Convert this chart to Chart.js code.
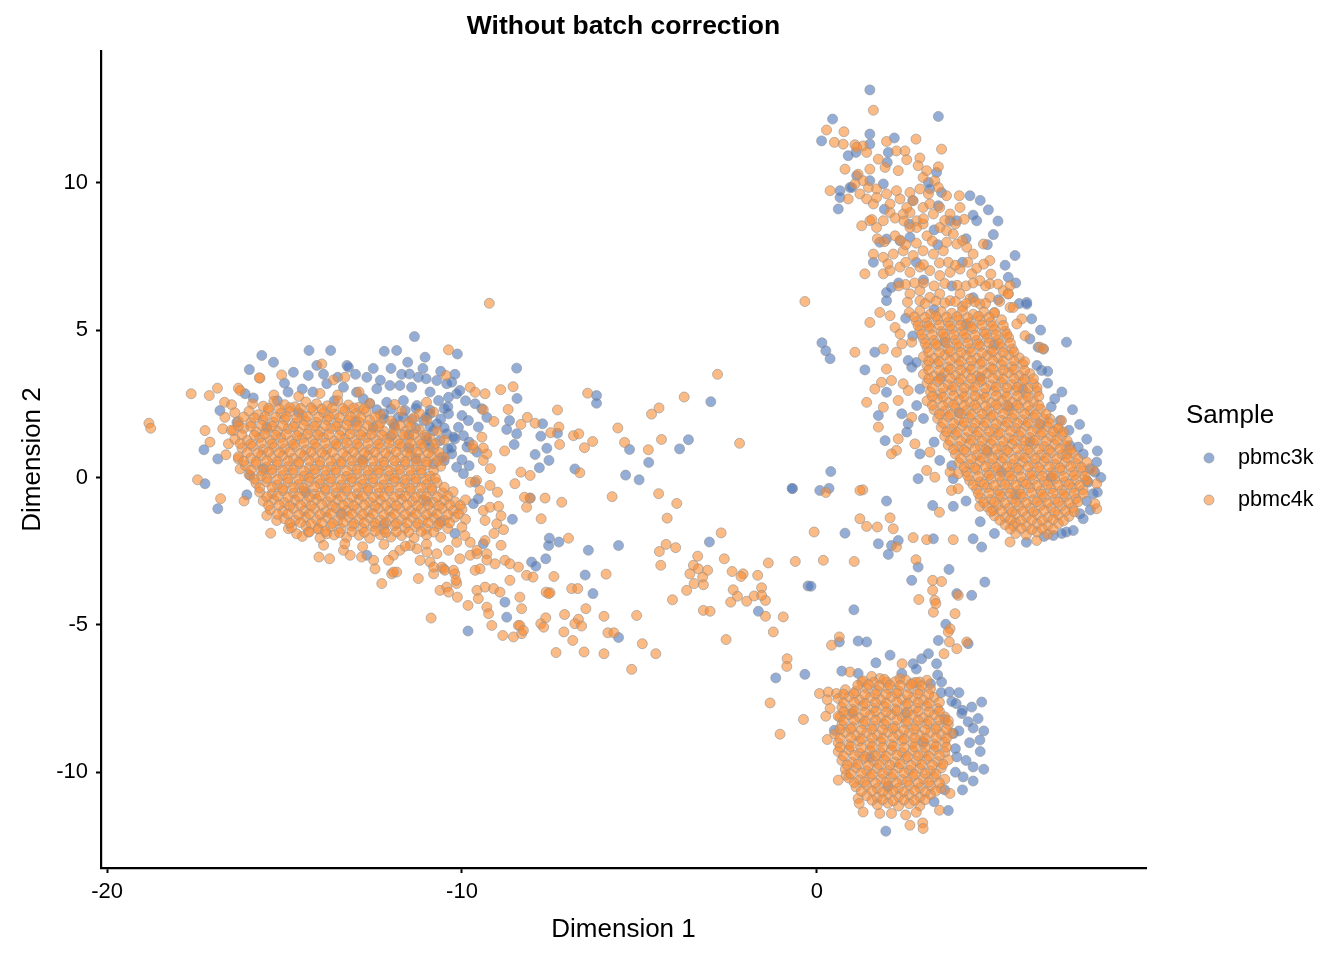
<!DOCTYPE html>
<html><head><meta charset="utf-8">
<script src="https://cdn.jsdelivr.net/npm/chart.js@4.4.1/dist/chart.umd.min.js"></script>
<style>html,body{margin:0;padding:0;background:#fff}canvas{display:block}</style>
</head><body>
<canvas id="c" width="1344" height="960" style="width:1344px;height:960px"></canvas>
<script>
const chartTitle = 'Without batch correction';
const xTitle = 'Dimension 1';
const yTitle = 'Dimension 2';
const legendTitle = 'Sample';
const seriesNames = ['pbmc3k', 'pbmc4k'];
const xTicks = [-20, -10, 0];
const yTicks = [-10, -5, 0, 5, 10];

// pbmc3k points [Dimension 1, Dimension 2]
const pbmc3k = [
[-17.27,0.94],[-16.88,0.63],[-17.24,-0.21],[-16.88,-1.06],[-16.06,-0.59],[-15.97,0.07],[-16.34,1.87],[-16.82,2.27],[-16.11,2.84],[-15.88,2.70],[-15.64,4.14],[-15.31,3.91],[-15.99,3.66],
[-11.34,4.78],[-12.19,4.28],[-11.84,4.31],[-10.13,4.19],[-14.31,4.31],[-13.70,4.31],[-14.09,3.80],[-13.24,3.80],[-13.20,3.74],[-11.53,3.91],[-11.04,4.08],[-11.48,3.51],[-12.68,3.40],[-14.75,3.57],[-14.33,3.46],
[-11.23,3.40],[-11.01,3.35],[-10.71,3.29],[-10.43,3.18],[-10.29,3.23],[-12.03,3.12],[-11.75,3.12],[-11.42,3.06],[-10.06,2.95],[-10.38,2.72],[-10.15,2.84],
[-9.44,2.33],[-9.63,2.50],[-9.30,2.04],[-9.82,1.93],[-9.54,1.71],[-9.96,1.42],[-10.20,1.31],[-9.86,1.03],[-9.58,0.86],
[-9.96,0.13],[-9.63,-0.16],[-9.54,-0.72],[-9.68,-0.89],
[-10.66,2.61],[-10.38,2.16],[-10.90,2.16],[-10.71,1.82],[-11.08,1.93],[-10.80,1.59],[-10.43,1.48],[-10.24,1.37],[-10.62,1.25],[-10.99,1.25],[-10.29,0.80],[-10.15,0.35],[-10.57,0.69],[-10.80,0.46],
[-12.40,3.01],[-12.12,2.55],[-11.65,2.61],[-11.27,2.44],[-12.97,2.89],[-12.78,2.67],[-13.34,3.06],[-13.81,3.18],[-12.21,2.16],[-11.93,1.82],[-11.65,2.04],
[-12.68,-2.64],[-9.83,-5.21],[-8.79,-4.23],[-8.74,-4.74],[-8.04,-2.87],[-9.40,-2.25],[-8.58,-1.42],
[-12.4,2.3],[-12.0,2.32],[-11.6,2.27],[-11.3,2.35],[-10.9,2.28],[-10.5,2.33],[-12.2,2.0],[-11.8,2.04],[-11.4,1.97],[-11.0,2.05],[-10.6,1.98],[-12.5,1.7],[-11.9,1.74],[-11.3,1.67],[-10.9,1.72],[-10.5,1.68],[-12.0,1.4],[-11.5,1.44],[-11.0,1.37],[-11.5,1.0],[-10.9,1.04],[-10.4,0.97],[-12.8,0.6],[-11.3,0.64],[-10.5,0.57],
[-15.5,1.7],[-14.9,2.9],[-15.6,0.3],[-14.4,-0.5],[-13.4,-1.2],[-12.2,-1.6],[-11.0,-0.8],[-10.6,-1.5],[-10.2,-1.9],[-13.6,2.6],[-14.6,2.2],[-15.2,2.6],[-13.0,1.9],[-12.6,2.5],
[-15.0,3.2],[-14.5,3.0],[-13.9,3.5],[-13.5,3.4],[-13.0,3.5],[-12.5,3.7],[-12.0,3.7],[-11.7,3.5],[-11.1,3.7],[-10.6,3.6],[-10.2,3.5],[-9.9,2.6],[-14.2,2.9],[-12.3,3.3],[-10.9,2.9],[-10.4,2.4],[-10.0,2.1],[-10.1,1.7],[-9.8,1.2],[-10.3,1.0],[-10.0,0.6],[-9.8,0.4],
[-8.46,3.71],[-8.45,2.68],[-6.21,2.78],[-6.21,2.52],[-2.99,2.57],[-3.62,1.28],[-3.87,0.97],[-5.28,0.95],[-4.74,0.51],[-5.39,0.08],[-5.01,-0.08],[-0.69,-0.38],[-3.03,-2.19],[-0.25,-3.68],[-1.65,-4.54],[-1.16,-6.80],[-0.34,-6.68],[-5.59,-2.31],[-6.44,-2.47],[-6.53,-3.31],[-6.31,-3.94],[-5.59,-5.43],[-7.54,-2.06],[-7.56,-2.31],[-7.27,-2.19],[-7.92,-3.01],[-7.64,-2.76],[-6.82,0.29],[-7.31,1.50],[-7.78,1.40],[-7.94,0.78],[-7.61,0.99],[-7.55,0.58],[-7.82,0.33],[-7.73,1.82],[-8.66,1.93],[-8.74,1.63],[-8.46,1.48],[-8.53,1.12],[-8.08,-0.70],
[1.49,13.15],[3.42,12.25],[0.44,12.16],[0.13,11.42],[1.49,11.65],[2.18,11.52],[0.88,10.92],[1.10,11.03],[1.49,11.31],[2.01,11.03],[1.98,10.69],[1.12,10.24],[0.93,9.84],[1.49,10.07],[1.87,9.96],[3.14,10.01],[3.37,10.35],[3.51,9.67],
[0.65,9.73],[0.65,9.50],[0.60,9.11],[0.98,9.84],[4.31,9.56],[4.83,9.08],[4.50,8.71],[4.97,8.24],[5.58,7.53],[5.39,6.79],[5.91,5.94],[5.11,6.03],[2.10,6.45],[1.96,6.28],
[1.77,7.98],[1.96,8.09],[1.59,7.30],[2.34,8.03],[2.62,8.15],[3.18,9.79],[3.42,9.22],[3.75,8.71],[3.94,8.71],
[2.8,7.3],[3.4,7.9],[4.1,7.3],[2.3,6.6],[3.0,6.7],[3.8,6.5],[4.4,6.1],[2.6,8.6],[3.3,8.4],[4.2,8.1],[1.9,9.1],[2.7,9.4],
[4.6,9.4],[5.1,8.7],[4.8,7.9],[5.3,7.2],[5.6,6.6],[4.4,8.9],
[1.96,6.0],[1.63,4.25],[1.35,3.65],[2.67,3.74],[2.57,3.97],[1.96,2.89],[1.73,2.10],[2.39,2.16],[2.81,2.44],[2.57,1.82],[1.92,1.25],[2.53,1.54],[2.90,0.80],[3.46,0.58],[3.84,-0.04],[2.85,-0.04],
[1.96,-0.80],[0.79,-1.89],[1.73,-2.25],[2.10,-2.31],[2.29,-2.14],[3.28,-2.08],[4.40,-2.08],[4.64,-2.36],
[5.91,5.88],[6.05,5.38],[6.33,3.63],[6.70,2.67],[7.03,4.59],[6.23,4.42],[6.38,4.36],[6.85,1.93],[7.36,1.03],[7.13,1.08],[7.88,0.52],[7.83,0.18],[7.78,-0.55],[7.64,-0.16],[7.41,-1.23],[7.22,-1.80],[7.03,-1.85],[6.66,-1.97],
[6.2,3.8],[6.5,3.2],[6.6,2.4],[7.1,1.6],[7.5,0.8],[7.7,0.3],[7.6,-0.8],[7.5,-1.4],[6.4,-2.0],[5.0,-1.9],[4.6,-1.5],[4.2,-0.8],[3.8,0.4],[3.3,1.2],[3.0,2.0],[2.9,3.0],[2.8,3.9],[2.7,4.8],[2.5,5.4],[3.6,4.6],[4.6,3.4],[5.4,2.4],[6.0,1.2],[6.6,0.0],[5.6,-0.6],[4.8,0.9],[4.0,2.2],[3.5,3.4],[4.2,5.2],[5.0,4.5],[5.8,3.0],[6.3,1.8],[5.2,0.2],[3.3,5.7],
[6.9,2.9],[7.2,2.3],[7.4,1.8],[7.6,1.3],[7.9,0.9],[8.0,0.0],[7.9,-0.5],[7.7,-1.1],[6.9,-1.9],[5.9,-2.2],[6.5,3.6],[6.0,4.7],[5.7,5.9],[6.3,5.0],
[0.14,4.57],[0.25,4.30],[0.37,4.03],[0.39,0.20],[0.08,-0.44],[0.34,-0.37],[-0.70,-0.37],
[3.26,-0.95],[3.84,-0.98],[2.01,-2.61],[2.85,-3.04],[3.72,-3.12],[-0.17,-3.69],[2.67,-3.49],[4.73,-3.55],[4.36,-4.0],[3.94,-3.94],[1.04,-4.49],[3.63,-4.98],[3.42,-5.53],[4.26,-5.64],[0.63,-5.58],[1.16,-5.55],[1.40,-5.58],[2.06,-6.03],[1.66,-6.29],[2.71,-6.32],[3.14,-5.98],[2.95,-6.15],[0.70,-6.57],[1.16,-6.65],[2.39,-6.65],
[3.37,-6.32],[3.51,-6.94],[3.73,-7.28],[3.92,-7.67],[4.36,-7.79],[4.64,-7.62],[4.08,-8.01],[4.26,-8.29],[4.54,-8.18],[4.59,-8.91],[4.40,-9.82],[4.12,-10.16],[3.94,-9.48],[3.84,-8.69],[0.49,-8.58],[1.94,-12.0],
[3.2,-7.0],[3.5,-7.3],[3.8,-7.6],[4.1,-7.9],[4.4,-8.5],[4.0,-8.6],[4.3,-9.0],[4.6,-9.3],[4.2,-9.6],[3.9,-10.0],[4.4,-10.3],[3.6,-10.6],[3.3,-11.0],[3.0,-9.0],[2.5,-8.0],[1.5,-9.5],[2.0,-10.5],[1.0,-8.0],[3.6,-8.2],[3.9,-9.2],[4.0,-7.3],[3.4,-6.7],[2.8,-6.5],[4.7,-8.6],[4.7,-9.9],[4.1,-10.6],[3.7,-11.3]
];

// pbmc4k points [Dimension 1, Dimension 2]
const pbmc4k = [
[-18.82,1.84],[-18.77,1.67],[-17.63,2.84],[-17.12,2.78],[-16.89,3.03],[-15.69,3.37],[-15.08,3.48],[-16.30,3.03],[-16.25,2.95],[-16.69,2.55],[-16.49,2.47],[-16.68,2.04],[-17.24,1.59],[-17.10,1.20],[-16.74,1.65],[-16.65,0.77],[-16.58,1.14],[-16.44,1.59],[-17.45,-0.08],[-16.80,-0.72],[-16.14,-0.80],[-15.50,-1.29],[-15.22,-1.46],[-15.39,-1.89],[-16.25,0.29],[-16.30,0.63],
[-10.38,4.33],[-13.95,3.85],[-15.71,3.38],[-13.62,3.31],[-13.30,3.40],[-10.45,3.46],[-9.77,3.06],[-9.63,2.89],[-9.35,2.84],[-9.44,1.37],[-9.68,0.97],[-9.40,0.58],[-9.30,0.80],[-9.59,-0.10],[-9.49,-0.44],
[-14.89,-1.74],[-14.66,-1.91],[-14.33,-1.85],[-14.05,-1.74],[-13.81,-1.91],[-14.03,-2.70],[-13.73,-2.76],[-13.34,-2.47],[-13.15,-2.64],[-12.83,-2.70],[-12.49,-2.81],[-12.26,-3.60],[-11.98,-3.27],[-11.84,-3.21],[-11.23,-3.43],[-10.80,-3.27],[-10.52,-3.10],[-10.62,-3.83],[-10.43,-3.72],[-10.15,-3.60],[-9.63,-3.15],[-9.49,-3.10],
[-10.87,-4.77],[-10.38,-3.89],[-10.13,-4.06],[-9.83,-4.34],[-9.58,-3.83],[-9.54,-4.11],[-9.30,-4.40],[-9.25,-4.62],[-9.16,-5.02],[-8.85,-5.36],[-8.55,-5.41],[-8.41,-5.02],[-8.32,-5.30],[-9.35,-3.72],[-9.11,-3.77],[-8.93,-3.89],[-8.65,-3.49],[-8.41,-3.04],[-9.07,-2.93],[-8.79,-2.81],[-8.65,-2.93],[-8.18,-3.32],[-8.0,-3.38],[-10.20,-3.27],[-10.17,-3.49],[-10.57,-3.04],[-10.48,-3.15],[-9.35,-2.14],[-9.30,-2.59],[-9.58,-2.59],[-9.02,-1.57],[-8.83,-1.77],[-9.35,-1.46],[-9.40,-1.12],[-9.21,-1.01],[-8.97,-0.98],[-9.77,-0.16],[-9.21,-0.27],
[-11.18,-2.81],[-10.90,-2.87],[-10.80,-3.04],[-10.24,-3.15],[-10.06,-2.76],[-9.77,-2.64],[-9.58,-2.47],[-9.77,-2.20],[-9.92,-1.97],[-10.15,-2.20],[-10.38,-2.47],[-10.71,-2.59],[-10.99,-2.53],[-11.27,-2.42],[-11.46,-2.31],[-11.75,-2.47],[-11.93,-2.64],[-12.07,-2.81],[-12.45,-3.10],[-11.93,-3.21],
[-9.23,5.91],[-8.56,3.08],[-8.91,2.98],[-6.46,2.86],[-7.31,2.29],[-2.80,3.50],[-3.74,2.73],[-4.45,2.36],[-4.66,2.15],[-5.61,1.68],[-2.18,1.16],[-4.38,1.29],[-5.42,1.19],[-4.75,0.94],[-5.77,-0.65],[-4.46,-0.55],[-3.95,-0.88],[-4.22,-1.38],[-2.70,-1.88],[-4.25,-2.27],[-4.44,-2.51],[-3.98,-2.38],[-4.40,-2.98],
[-3.36,-2.67],[-3.48,-2.98],[-3.34,-3.10],[-3.08,-3.15],[-3.58,-3.27],[-3.22,-3.38],[-3.46,-3.60],[-3.20,-3.64],[-3.67,-3.83],[-2.61,-2.76],[-2.39,-3.19],[-2.08,-3.27],[-2.14,-3.36],[-1.67,-3.32],[-1.37,-2.90],[-0.61,-2.85],
[-2.36,-3.81],[-2.43,-4.23],[-2.24,-4.03],[-1.98,-4.20],[-1.77,-4.02],[-1.56,-3.74],[-1.45,-4.17],[-1.56,-4.0],[-1.45,-4.71],[-0.95,-4.73],[-1.23,-5.24],[-3.20,-4.51],[-3.01,-4.54],[-4.07,-4.15],[-2.56,-5.50],[-0.84,-6.15],[-0.85,-6.41],
[-5.94,-3.28],[-5.08,-4.68],[-4.92,-5.64],[-4.54,-5.98],[-5.22,-6.51],[-6.0,-4.71],[-6.0,-5.98],[-5.89,-5.27],[-5.72,-5.27],[-6.56,-5.92],[-7.35,-5.94],
[-7.11,-4.65],[-7.13,-5.24],[-6.88,-5.53],[-6.72,-4.81],[-6.82,-4.96],[-6.63,-5.04],[-6.51,-4.45],[-6.91,-3.77],[-6.74,-3.77],[-7.41,-3.36],[-7.0,-2.06],[-7.63,-3.89],[-7.52,-3.91],[-7.19,-0.84],[-7.66,-0.70],[-7.77,-1.40],[-8.08,-0.70],[-8.18,-1.01],
[-6.68,0.16],[-6.86,1.42],[-6.71,1.48],[-6.32,1.22],[-6.55,1.01],[-7.25,1.12],[-7.27,1.71],[-7.50,1.52],[-8.34,0.18],[-8.08,0.07],[-8.51,-0.21],[-8.24,-0.67],[-8.16,2.04],[-7.94,1.84],[-8.34,1.80],[-8.70,2.31],
[-8.37,-4.06],[-8.32,-4.45],[-8.37,-5.02],[-8.27,-5.19],[-7.78,-4.96],[-7.64,-4.76],[-7.70,-5.08],[-7.56,-3.94],
[-9.2,0.3],[-9.0,-0.5],[-9.1,-1.9],[-8.9,-2.3],[-9.3,-2.8],[-8.8,0.9],[-9.1,1.9],[-9.4,2.3],[-8.9,-1.3],
[-15.3,2.8],[-14.6,2.75],[-14.0,2.85],[-13.5,2.8],[-12.9,2.9],
[-15.9,2.5],[-15.6,2.42],[-15.3,2.58],[-15.0,2.47],[-14.7,2.4],[-14.4,2.56],[-14.1,2.5],[-13.8,2.43],[-13.5,2.6],[-13.2,2.46],[-12.9,2.38],[-12.6,2.52],[-11.9,2.48],[-11.0,2.55],
[-16.4,2.2],[-16.0,2.25],[-15.75,2.13],[-15.45,2.27],[-15.1,2.18],[-14.85,2.24],[-14.5,2.12],[-14.2,2.28],[-13.9,2.2],[-13.6,2.15],[-13.3,2.26],[-13.0,2.17],[-12.7,2.23],[-12.3,2.14],[-11.7,2.25],[-11.2,2.18],[-10.8,2.22],
[-16.3,1.9],[-15.95,1.86],[-15.6,1.95],[-15.3,1.88],[-15.0,1.97],[-14.7,1.84],[-14.4,1.92],[-14.1,1.87],[-13.8,1.96],[-13.5,1.85],[-13.2,1.93],[-12.9,1.88],[-12.6,1.95],[-12.3,1.86],[-12.0,1.92],[-11.5,1.88],[-11.0,1.94],
[-16.5,1.6],[-16.15,1.66],[-15.8,1.55],[-15.5,1.63],[-15.2,1.57],[-14.9,1.65],[-14.6,1.54],[-14.3,1.62],[-14.0,1.56],[-13.7,1.66],[-13.4,1.58],[-13.1,1.63],[-12.8,1.55],[-12.5,1.61],[-12.2,1.57],[-11.9,1.64],[-11.6,1.56],[-11.2,1.62],[-10.7,1.58],
[-16.4,1.3],[-16.05,1.26],[-15.7,1.35],[-15.4,1.27],[-15.1,1.34],[-14.8,1.25],[-14.5,1.33],[-14.2,1.27],[-13.9,1.36],[-13.6,1.24],[-13.3,1.32],[-13.0,1.28],[-12.7,1.35],[-12.4,1.26],[-12.1,1.31],[-11.8,1.27],[-11.5,1.34],[-11.2,1.25],[-10.9,1.32],[-10.5,1.28],
[-16.2,1.0],[-15.9,1.06],[-15.6,0.95],[-15.3,1.03],[-15.0,0.97],[-14.7,1.05],[-14.4,0.94],[-14.1,1.02],[-13.8,0.96],[-13.5,1.06],[-13.2,0.98],[-12.9,1.03],[-12.6,0.95],[-12.3,1.01],[-12.0,0.97],[-11.7,1.04],[-11.4,0.96],[-11.1,1.02],[-10.8,0.98],[-9.7,1.1],[-9.4,1.0],
[-16.3,0.7],[-15.95,0.66],[-15.65,0.75],[-15.35,0.67],[-15.05,0.74],[-14.75,0.65],[-14.45,0.73],[-14.15,0.67],[-13.85,0.76],[-13.55,0.64],[-13.25,0.72],[-12.95,0.68],[-12.65,0.75],[-12.35,0.66],[-12.05,0.71],[-11.75,0.67],[-11.45,0.74],[-11.15,0.65],[-10.85,0.72],[-10.5,0.68],
[-16.1,0.4],[-15.8,0.45],[-15.5,0.35],[-15.2,0.43],[-14.9,0.37],[-14.6,0.46],[-14.3,0.34],[-14.0,0.42],[-13.7,0.36],[-13.4,0.46],[-13.1,0.38],[-12.8,0.43],[-12.5,0.35],[-12.2,0.41],[-11.9,0.37],[-11.6,0.44],[-11.3,0.36],[-11.0,0.42],[-10.6,0.38],
[-16.0,0.1],[-15.65,0.06],[-15.35,0.15],[-15.05,0.07],[-14.75,0.14],[-14.45,0.05],[-14.15,0.13],[-13.85,0.07],[-13.55,0.16],[-13.25,0.04],[-12.95,0.12],[-12.65,0.08],[-12.35,0.15],[-12.05,0.06],[-11.75,0.11],[-11.45,0.07],[-11.15,0.14],[-10.9,0.05],
[-15.8,-0.2],[-15.5,-0.15],[-15.2,-0.25],[-14.9,-0.17],[-14.6,-0.24],[-14.3,-0.14],[-14.0,-0.22],[-13.7,-0.16],[-13.4,-0.26],[-13.1,-0.15],[-12.8,-0.23],[-12.5,-0.17],[-12.2,-0.25],[-11.9,-0.14],[-11.6,-0.21],[-11.3,-0.16],[-11.0,-0.24],[-10.7,-0.18],
[-15.7,-0.5],[-15.35,-0.55],[-15.05,-0.45],[-14.75,-0.53],[-14.45,-0.46],[-14.15,-0.56],[-13.85,-0.44],[-13.55,-0.52],[-13.25,-0.47],[-12.95,-0.55],[-12.65,-0.45],[-12.35,-0.53],[-12.05,-0.46],[-11.75,-0.54],[-11.45,-0.47],[-11.15,-0.55],[-10.85,-0.45],[-10.55,-0.52],[-10.25,-0.48],
[-15.6,-0.8],[-15.3,-0.75],[-15.0,-0.85],[-14.7,-0.77],[-14.4,-0.84],[-14.1,-0.74],[-13.8,-0.82],[-13.5,-0.76],[-13.2,-0.86],[-12.9,-0.75],[-12.6,-0.83],[-12.3,-0.77],[-12.0,-0.85],[-11.7,-0.74],[-11.4,-0.81],[-11.1,-0.76],[-10.8,-0.84],[-10.5,-0.78],[-10.2,-0.82],[-9.9,-0.76],
[-15.4,-1.1],[-15.05,-1.15],[-14.75,-1.05],[-14.45,-1.13],[-14.15,-1.06],[-13.85,-1.16],[-13.55,-1.04],[-13.25,-1.12],[-12.95,-1.07],[-12.65,-1.15],[-12.35,-1.05],[-12.05,-1.13],[-11.75,-1.06],[-11.45,-1.14],[-11.15,-1.07],[-10.85,-1.15],[-10.55,-1.05],[-10.25,-1.12],[-10.0,-1.08],
[-15.0,-1.4],[-14.7,-1.45],[-14.4,-1.35],[-14.1,-1.43],[-13.8,-1.36],[-13.5,-1.46],[-13.2,-1.34],[-12.9,-1.42],[-12.6,-1.37],[-12.3,-1.45],[-12.0,-1.35],[-11.7,-1.43],[-11.4,-1.36],[-11.1,-1.44],[-10.8,-1.37],[-10.5,-1.45],[-10.2,-1.35],[-9.9,-1.42],
[-14.8,-1.7],[-14.4,-1.65],[-14.05,-1.75],[-13.7,-1.67],[-13.4,-1.74],[-13.1,-1.65],[-12.8,-1.73],[-12.5,-1.66],[-12.2,-1.76],[-11.9,-1.64],[-11.6,-1.72],[-11.3,-1.67],[-11.0,-1.75],[-10.7,-1.66],[-10.4,-1.73],[-10.0,-1.68],
[-14.5,-2.0],[-14.0,-2.05],[-13.6,-1.95],[-13.25,-2.03],[-12.9,-1.96],[-12.6,-2.06],[-12.3,-1.94],[-12.0,-2.02],[-11.7,-1.97],[-11.35,-2.05],[-11.0,-1.95],[-10.6,-2.03],
[-13.9,-2.3],[-13.3,-2.25],[-12.8,-2.35],[-12.2,-2.27],[-11.6,-2.33],[-11.0,-2.26],
[-15.45,2.35],[-15.15,2.33],[-14.85,2.37],[-14.55,2.34],[-14.25,2.36],[-13.95,2.32],[-13.65,2.37],[-13.35,2.34],[-13.05,2.36],[-12.75,2.33],
[-16.15,2.05],[-15.85,2.03],[-15.55,2.07],[-15.25,2.04],[-14.95,2.06],[-14.65,2.02],[-14.35,2.07],[-14.05,2.04],[-13.75,2.06],[-13.45,2.03],[-13.15,2.07],[-12.85,2.04],[-12.45,2.06],[-11.35,2.03],
[-16.3,1.75],[-15.95,1.73],[-15.65,1.77],[-15.35,1.74],[-15.05,1.76],[-14.75,1.72],[-14.45,1.77],[-14.15,1.74],[-13.85,1.76],[-13.55,1.73],[-13.25,1.77],[-12.95,1.74],[-12.65,1.76],[-12.35,1.73],[-11.75,1.77],[-11.45,1.74],
[-16.2,1.45],[-15.85,1.43],[-15.55,1.47],[-15.25,1.44],[-14.95,1.46],[-14.65,1.42],[-14.35,1.47],[-14.05,1.44],[-13.75,1.46],[-13.45,1.43],[-13.15,1.47],[-12.85,1.44],[-12.55,1.46],[-12.25,1.43],[-11.95,1.47],[-11.65,1.44],[-11.35,1.46],[-11.05,1.43],
[-16.25,1.15],[-15.95,1.13],[-15.65,1.17],[-15.35,1.14],[-15.05,1.16],[-14.75,1.12],[-14.45,1.17],[-14.15,1.14],[-13.85,1.16],[-13.55,1.13],[-13.25,1.17],[-12.95,1.14],[-12.65,1.16],[-12.35,1.13],[-12.05,1.17],[-11.75,1.14],[-11.45,1.16],[-11.15,1.13],[-10.75,1.15],
[-16.05,0.85],[-15.75,0.83],[-15.45,0.87],[-15.15,0.84],[-14.85,0.86],[-14.55,0.82],[-14.25,0.87],[-13.95,0.84],[-13.65,0.86],[-13.35,0.83],[-13.05,0.87],[-12.75,0.84],[-12.45,0.86],[-12.15,0.83],[-11.85,0.87],[-11.55,0.84],[-11.25,0.86],[-10.95,0.83],[-10.65,0.85],
[-16.15,0.55],[-15.8,0.53],[-15.5,0.57],[-15.2,0.54],[-14.9,0.56],[-14.6,0.52],[-14.3,0.57],[-14.0,0.54],[-13.7,0.56],[-13.4,0.53],[-13.1,0.57],[-12.8,0.54],[-12.5,0.56],[-12.2,0.53],[-11.9,0.57],[-11.6,0.54],[-11.3,0.56],[-11.0,0.53],[-10.7,0.55],
[-15.95,0.25],[-15.65,0.23],[-15.35,0.27],[-15.05,0.24],[-14.75,0.26],[-14.45,0.22],[-14.15,0.27],[-13.85,0.24],[-13.55,0.26],[-13.25,0.23],[-12.95,0.27],[-12.65,0.24],[-12.35,0.26],[-12.05,0.23],[-11.75,0.27],[-11.45,0.24],[-11.15,0.26],[-10.8,0.23],
[-15.85,-0.05],[-15.5,-0.03],[-15.2,-0.07],[-14.9,-0.04],[-14.6,-0.06],[-14.3,-0.02],[-14.0,-0.07],[-13.7,-0.04],[-13.4,-0.06],[-13.1,-0.03],[-12.8,-0.07],[-12.5,-0.04],[-12.2,-0.06],[-11.9,-0.03],[-11.6,-0.07],[-11.3,-0.04],[-11.0,-0.06],[-10.75,-0.03],
[-15.7,-0.35],[-15.35,-0.33],[-15.05,-0.37],[-14.75,-0.34],[-14.45,-0.36],[-14.15,-0.32],[-13.85,-0.37],[-13.55,-0.34],[-13.25,-0.36],[-12.95,-0.33],[-12.65,-0.37],[-12.35,-0.34],[-12.05,-0.36],[-11.75,-0.33],[-11.45,-0.37],[-11.15,-0.34],[-10.85,-0.36],[-10.5,-0.33],
[-15.5,-0.65],[-15.2,-0.63],[-14.9,-0.67],[-14.6,-0.64],[-14.3,-0.66],[-14.0,-0.62],[-13.7,-0.67],[-13.4,-0.64],[-13.1,-0.66],[-12.8,-0.63],[-12.5,-0.67],[-12.2,-0.64],[-11.9,-0.66],[-11.6,-0.63],[-11.3,-0.67],[-11.0,-0.64],[-10.7,-0.66],[-10.4,-0.63],
[-15.45,-0.95],[-15.15,-0.93],[-14.85,-0.97],[-14.55,-0.94],[-14.25,-0.96],[-13.95,-0.92],[-13.65,-0.97],[-13.35,-0.94],[-13.05,-0.96],[-12.75,-0.93],[-12.45,-0.97],[-12.15,-0.94],[-11.85,-0.96],[-11.55,-0.93],[-11.25,-0.97],[-10.95,-0.94],[-10.65,-0.96],[-10.35,-0.93],[-10.05,-0.95],
[-15.2,-1.25],[-14.9,-1.23],[-14.6,-1.27],[-14.3,-1.24],[-14.0,-1.26],[-13.7,-1.22],[-13.4,-1.27],[-13.1,-1.24],[-12.8,-1.26],[-12.5,-1.23],[-12.2,-1.27],[-11.9,-1.24],[-11.6,-1.26],[-11.3,-1.23],[-11.0,-1.27],[-10.7,-1.24],[-10.4,-1.26],[-10.1,-1.23],
[-14.85,-1.55],[-14.55,-1.53],[-14.25,-1.57],[-13.95,-1.54],[-13.65,-1.56],[-13.35,-1.52],[-13.05,-1.57],[-12.75,-1.54],[-12.45,-1.56],[-12.15,-1.53],[-11.85,-1.57],[-11.55,-1.54],[-11.25,-1.56],[-10.95,-1.53],[-10.65,-1.57],[-10.35,-1.54],
[-14.3,-1.85],[-13.85,-1.83],[-13.45,-1.87],[-13.1,-1.84],[-12.75,-1.86],[-12.45,-1.82],[-12.15,-1.87],[-11.85,-1.84],[-11.5,-1.86],[-11.15,-1.83],[-10.8,-1.85],
[1.59,12.46],[0.27,11.79],[0.76,11.73],[0.49,11.37],[0.74,11.31],[1.07,11.29],[1.30,11.25],[1.96,11.40],[2.79,11.48],[3.51,11.14],
[1.12,11.20],[1.40,11.03],[1.73,10.80],[2.24,11.08],[2.48,11.08],[2.53,10.78],[2.90,10.84],[3.09,10.41],[3.42,10.54],
[0.79,10.46],[1.16,10.29],[1.49,10.46],[1.92,10.52],[2.29,10.41],[2.85,10.58],[2.99,10.18],[3.32,10.07],
[0.37,9.73],[0.88,9.45],[1.21,9.62],[1.45,9.84],[1.68,9.79],[1.96,9.62],[2.24,9.73],[2.62,9.67],[2.90,9.79],[3.14,9.62],[3.42,9.84],[3.65,9.56],[4.01,9.56],
[1.35,6.91],[-0.34,5.97],
[1.26,8.54],[1.49,8.71],[1.68,8.48],[1.87,8.71],[2.06,8.99],[2.43,8.94],[2.62,8.99],[2.81,8.71],[2.99,8.60],[3.28,8.94],[3.46,8.48],[3.65,8.37],[3.84,8.26],
[1.59,7.58],[1.87,7.47],[2.15,7.58],[2.43,7.69],[2.71,7.53],[2.99,7.69],[3.28,7.58],[3.56,7.69],[3.94,7.92],[4.22,7.81],[4.40,7.58],[4.69,7.92],[4.87,7.36],
[1.87,6.91],[2.06,7.02],[2.34,7.14],[2.62,6.96],[2.90,7.14],[3.18,7.02],[3.46,6.85],[3.75,6.96],[4.03,7.07],[4.36,6.91],[4.59,6.68],[4.87,6.57],[5.25,6.34],
[2.62,6.23],[2.90,6.34],[3.18,6.11],[3.46,6.23],[3.75,6.0],[4.03,6.23],[4.31,6.06],[4.59,5.89],[4.87,6.11],[5.39,6.23],[5.44,5.77],
[1.30,10.07],[1.07,9.96],[1.40,9.45],[1.59,9.28],[1.68,9.50],[2.06,9.28],[2.34,9.45],[2.53,9.16],[2.71,9.39],[2.99,9.16],[3.18,9.28],[3.46,9.16],[3.75,8.94],[4.03,9.16],[2.81,8.48],[2.62,8.48],
[2.2,8.2],[3.1,8.2],[3.9,8.6],[2.5,7.9],[3.7,7.3],[4.5,7.1],[2.3,6.5],[3.0,6.6],[4.2,6.5],[4.9,6.9],[1.7,8.1],[2.9,6.0],[4.1,5.8],[5.0,5.6],
[1.9,8.0],[2.35,8.05],[2.8,7.95],[3.25,8.02],[3.65,7.98],[4.1,8.04],
[2.0,7.25],[2.5,7.3],[3.0,7.22],[3.45,7.28],[3.9,7.2],[4.25,7.3],[4.7,7.24],
[2.5,6.55],[2.75,6.6],[3.3,6.5],[3.6,6.58],[3.95,6.52],[4.4,6.6],[4.75,6.5],[5.1,6.56],
[2.55,5.95],[3.05,5.9],[3.35,5.98],[3.6,5.92],[3.9,5.97],[4.2,5.9],[4.45,5.96],[4.75,5.91],[5.15,5.97],
[1.55,8.75],[2.2,8.8],[2.45,8.7],[3.0,8.78],[3.6,8.72],[4.15,8.76],
[1.77,5.60],[1.49,5.26],[2.06,5.49],[2.20,5.09],[2.34,4.87],[2.67,4.59],[2.39,4.53],[1.07,4.25],[1.87,4.36],[2.24,4.25],
[1.96,3.68],[1.82,3.23],[2.10,3.29],[1.63,3.0],[1.40,2.55],[1.87,2.38],[2.29,2.61],[2.57,2.95],[2.43,3.18],
[1.73,1.71],[2.29,1.31],[2.67,2.04],[2.76,1.14],[2.24,0.92],[2.10,0.80],
[3.18,0.86],[3.09,0.24],[3.32,0.01],[3.75,0.18],[3.98,0.13],[3.79,-0.44],[3.98,-0.38],
[1.29,-0.42],[2.06,-1.37],[1.21,-1.40],[1.40,-1.66],[1.70,-1.68],[2.15,-1.74],[2.71,-2.04],[3.09,-2.11],[3.84,-2.11],
[5.44,6.51],[5.39,6.23],[5.53,5.77],[5.77,5.38],[5.63,5.21],[5.86,4.81],[6.28,4.42],[6.38,4.36],[6.56,1.99],[6.89,1.93],[6.80,1.65],[7.03,0.80],[7.60,0.52],[7.78,0.24],[7.60,-0.10],[7.88,-0.21],[7.88,-1.06],[7.83,-0.89],[5.44,-2.19],[6.19,-2.14],[5.53,-1.63],
[1.21,-0.44],[0.25,-0.51],
[3.45,-1.18],[4.59,-0.98],[4.97,-1.12],[-0.08,-1.85],[2.24,-2.36],[0.18,-2.81],[1.05,-2.85],[2.79,-2.79],[3.26,-3.49],[3.51,-3.53],
[3.26,-3.83],[3.32,-4.17],[2.87,-4.14],[3.28,-4.57],[3.35,-4.28],[3.89,-4.62],[3.98,-4.0],
[3.75,-5.13],[3.70,-5.24],[3.73,-5.58],[3.94,-5.81],[3.58,-5.98],[4.22,-5.58],[0.41,-5.69],[0.63,-5.41],
[-1.32,-7.65],[-0.38,-8.21],[-1.04,-8.71],[2.40,-6.32],[1.77,-6.82],
[0.07,-7.33],[0.32,-7.28],[0.55,-7.33],[0.29,-7.54],[0.37,-7.84],[0.65,-8.13],[0.25,-8.10],[0.29,-8.89],
[0.60,-10.27],[0.82,-10.10],[1.16,-10.89],[1.30,-11.35],[1.19,-11.06],[1.77,-11.40],[2.62,-11.80],[2.98,-11.72],[2.99,-11.91],[3.45,-11.29],[3.75,-10.72],
[2.71,-6.97],[2.90,-6.94],[0.93,-6.60],[1.26,-6.94],[1.54,-6.75],[1.96,-6.94],[2.34,-6.82],
[2.6,5.6],[2.9,5.65],[3.2,5.55],[3.5,5.63],[3.8,5.57],[4.1,5.66],[4.4,5.54],[4.7,5.62],[5.0,5.58],
[2.8,5.3],[3.1,5.25],[3.4,5.35],[3.7,5.27],[4.0,5.34],[4.3,5.25],[4.6,5.33],[4.9,5.27],[5.2,5.35],
[2.9,5.0],[3.2,5.06],[3.5,4.95],[3.8,5.03],[4.1,4.97],[4.4,5.05],[4.7,4.94],[5.0,5.02],[5.3,4.96],
[3.0,4.7],[3.3,4.65],[3.6,4.75],[3.9,4.67],[4.2,4.74],[4.5,4.65],[4.8,4.73],[5.1,4.67],[5.4,4.75],
[3.1,4.4],[3.4,4.46],[3.7,4.35],[4.0,4.43],[4.3,4.37],[4.6,4.45],[4.9,4.34],[5.2,4.42],[5.5,4.36],
[3.0,4.1],[3.3,4.05],[3.6,4.15],[3.9,4.07],[4.2,4.14],[4.5,4.05],[4.8,4.13],[5.1,4.07],[5.4,4.15],[5.7,4.06],
[3.1,3.8],[3.4,3.86],[3.7,3.75],[4.0,3.83],[4.3,3.77],[4.6,3.85],[4.9,3.74],[5.2,3.82],[5.5,3.76],[5.8,3.84],
[3.0,3.5],[3.3,3.45],[3.6,3.55],[3.9,3.47],[4.2,3.54],[4.5,3.45],[4.8,3.53],[5.1,3.47],[5.4,3.55],[5.7,3.46],[6.0,3.52],
[3.1,3.2],[3.4,3.26],[3.7,3.15],[4.0,3.23],[4.3,3.17],[4.6,3.25],[4.9,3.14],[5.2,3.22],[5.5,3.16],[5.8,3.24],[6.1,3.18],
[3.2,2.9],[3.5,2.85],[3.8,2.95],[4.1,2.87],[4.4,2.94],[4.7,2.85],[5.0,2.93],[5.3,2.87],[5.6,2.95],[5.9,2.86],[6.2,2.92],
[3.1,2.6],[3.4,2.66],[3.7,2.55],[4.0,2.63],[4.3,2.57],[4.6,2.65],[4.9,2.54],[5.2,2.62],[5.5,2.56],[5.8,2.64],[6.1,2.58],
[3.3,2.3],[3.6,2.25],[3.9,2.35],[4.2,2.27],[4.5,2.34],[4.8,2.25],[5.1,2.33],[5.4,2.27],[5.7,2.35],[6.0,2.26],[6.3,2.32],
[3.4,2.0],[3.7,2.06],[4.0,1.95],[4.3,2.03],[4.6,1.97],[4.9,2.05],[5.2,1.94],[5.5,2.02],[5.8,1.96],[6.1,2.04],[6.4,1.98],
[3.5,1.7],[3.8,1.65],[4.1,1.75],[4.4,1.67],[4.7,1.74],[5.0,1.65],[5.3,1.73],[5.6,1.67],[5.9,1.75],[6.2,1.66],[6.5,1.72],[6.8,1.68],
[3.6,1.4],[3.9,1.46],[4.2,1.35],[4.5,1.43],[4.8,1.37],[5.1,1.45],[5.4,1.34],[5.7,1.42],[6.0,1.36],[6.3,1.44],[6.6,1.38],[6.9,1.42],
[3.7,1.1],[4.0,1.05],[4.3,1.15],[4.6,1.07],[4.9,1.14],[5.2,1.05],[5.5,1.13],[5.8,1.07],[6.1,1.15],[6.4,1.06],[6.7,1.12],[7.0,1.08],
[3.9,0.8],[4.2,0.86],[4.5,0.75],[4.8,0.83],[5.1,0.77],[5.4,0.85],[5.7,0.74],[6.0,0.82],[6.3,0.76],[6.6,0.84],[6.9,0.78],[7.2,0.82],
[4.0,0.5],[4.3,0.45],[4.6,0.55],[4.9,0.47],[5.2,0.54],[5.5,0.45],[5.8,0.53],[6.1,0.47],[6.4,0.55],[6.7,0.46],[7.0,0.52],[7.3,0.48],
[4.2,0.2],[4.5,0.26],[4.8,0.15],[5.1,0.23],[5.4,0.17],[5.7,0.25],[6.0,0.14],[6.3,0.22],[6.6,0.16],[6.9,0.24],[7.2,0.18],[7.5,0.22],
[4.3,-0.1],[4.6,-0.15],[4.9,-0.05],[5.2,-0.13],[5.5,-0.06],[5.8,-0.15],[6.1,-0.07],[6.4,-0.13],[6.7,-0.05],[7.0,-0.14],[7.3,-0.08],[7.6,-0.12],
[4.5,-0.4],[4.8,-0.34],[5.1,-0.45],[5.4,-0.37],[5.7,-0.43],[6.0,-0.35],[6.3,-0.46],[6.6,-0.38],[6.9,-0.44],[7.2,-0.36],[7.5,-0.42],
[4.6,-0.7],[4.9,-0.75],[5.2,-0.65],[5.5,-0.73],[5.8,-0.66],[6.1,-0.75],[6.4,-0.67],[6.7,-0.74],[7.0,-0.65],[7.3,-0.72],
[4.8,-1.0],[5.1,-0.94],[5.4,-1.05],[5.7,-0.97],[6.0,-1.04],[6.3,-0.95],[6.6,-1.03],[6.9,-0.96],[7.2,-1.02],
[5.0,-1.3],[5.3,-1.35],[5.6,-1.25],[5.9,-1.33],[6.2,-1.26],[6.5,-1.35],[6.8,-1.27],[7.1,-1.32],
[5.3,-1.6],[5.6,-1.54],[5.9,-1.65],[6.2,-1.57],[6.5,-1.63],[6.8,-1.56],
[5.6,-1.9],[5.9,-1.95],[6.2,-1.85],[6.5,-1.93],
[2.75,5.45],[3.05,5.43],[3.35,5.47],[3.65,5.44],[3.95,5.46],[4.25,5.42],[4.55,5.47],[4.85,5.44],
[2.85,5.15],[3.15,5.13],[3.45,5.17],[3.75,5.14],[4.05,5.16],[4.35,5.12],[4.65,5.17],[4.95,5.14],[5.25,5.16],
[2.95,4.85],[3.25,4.83],[3.55,4.87],[3.85,4.84],[4.15,4.86],[4.45,4.82],[4.75,4.87],[5.05,4.84],[5.35,4.86],
[3.05,4.55],[3.35,4.53],[3.65,4.57],[3.95,4.54],[4.25,4.56],[4.55,4.52],[4.85,4.57],[5.15,4.54],[5.45,4.56],
[3.15,4.25],[3.45,4.23],[3.75,4.27],[4.05,4.24],[4.35,4.26],[4.65,4.22],[4.95,4.27],[5.25,4.24],[5.55,4.26],
[3.15,3.95],[3.45,3.93],[3.75,3.97],[4.05,3.94],[4.35,3.96],[4.65,3.92],[4.95,3.97],[5.25,3.94],[5.55,3.96],[5.85,3.93],
[3.15,3.65],[3.45,3.63],[3.75,3.67],[4.05,3.64],[4.35,3.66],[4.65,3.62],[4.95,3.67],[5.25,3.64],[5.55,3.66],[5.85,3.63],
[3.15,3.35],[3.45,3.33],[3.75,3.37],[4.05,3.34],[4.35,3.36],[4.65,3.32],[4.95,3.37],[5.25,3.34],[5.55,3.36],[5.85,3.33],[6.1,3.35],
[3.25,3.05],[3.55,3.03],[3.85,3.07],[4.15,3.04],[4.45,3.06],[4.75,3.02],[5.05,3.07],[5.35,3.04],[5.65,3.06],[5.95,3.03],[6.2,3.05],
[3.25,2.75],[3.55,2.73],[3.85,2.77],[4.15,2.74],[4.45,2.76],[4.75,2.72],[5.05,2.77],[5.35,2.74],[5.65,2.76],[5.95,2.73],[6.25,2.75],
[3.25,2.45],[3.55,2.43],[3.85,2.47],[4.15,2.44],[4.45,2.46],[4.75,2.42],[5.05,2.47],[5.35,2.44],[5.65,2.46],[5.95,2.43],[6.25,2.45],
[3.45,2.15],[3.75,2.13],[4.05,2.17],[4.35,2.14],[4.65,2.16],[4.95,2.12],[5.25,2.17],[5.55,2.14],[5.85,2.16],[6.15,2.13],[6.45,2.15],
[3.55,1.85],[3.85,1.83],[4.15,1.87],[4.45,1.84],[4.75,1.86],[5.05,1.82],[5.35,1.87],[5.65,1.84],[5.95,1.86],[6.25,1.83],[6.55,1.85],
[3.65,1.55],[3.95,1.53],[4.25,1.57],[4.55,1.54],[4.85,1.56],[5.15,1.52],[5.45,1.57],[5.75,1.54],[6.05,1.56],[6.35,1.53],[6.65,1.55],[6.95,1.54],
[3.75,1.25],[4.05,1.23],[4.35,1.27],[4.65,1.24],[4.95,1.26],[5.25,1.22],[5.55,1.27],[5.85,1.24],[6.15,1.26],[6.45,1.23],[6.75,1.27],[7.05,1.24],
[3.85,0.95],[4.15,0.93],[4.45,0.97],[4.75,0.94],[5.05,0.96],[5.35,0.92],[5.65,0.97],[5.95,0.94],[6.25,0.96],[6.55,0.93],[6.85,0.97],[7.15,0.94],
[4.05,0.65],[4.35,0.63],[4.65,0.67],[4.95,0.64],[5.25,0.66],[5.55,0.62],[5.85,0.67],[6.15,0.64],[6.45,0.66],[6.75,0.63],[7.05,0.67],[7.35,0.64],
[4.15,0.35],[4.45,0.33],[4.75,0.37],[5.05,0.34],[5.35,0.36],[5.65,0.32],[5.95,0.37],[6.25,0.34],[6.55,0.36],[6.85,0.33],[7.15,0.37],[7.45,0.34],
[4.25,0.05],[4.55,0.03],[4.85,0.07],[5.15,0.04],[5.45,0.06],[5.75,0.02],[6.05,0.07],[6.35,0.04],[6.65,0.06],[6.95,0.03],[7.25,0.07],[7.55,0.04],
[4.4,-0.25],[4.7,-0.23],[5.0,-0.27],[5.3,-0.24],[5.6,-0.26],[5.9,-0.22],[6.2,-0.27],[6.5,-0.24],[6.8,-0.26],[7.1,-0.23],[7.4,-0.27],
[4.55,-0.55],[4.85,-0.53],[5.15,-0.57],[5.45,-0.54],[5.75,-0.56],[6.05,-0.52],[6.35,-0.57],[6.65,-0.54],[6.95,-0.56],[7.25,-0.53],[7.5,-0.55],
[4.7,-0.85],[5.0,-0.83],[5.3,-0.87],[5.6,-0.84],[5.9,-0.86],[6.2,-0.82],[6.5,-0.87],[6.8,-0.84],[7.1,-0.86],[7.35,-0.83],
[4.9,-1.15],[5.2,-1.13],[5.5,-1.17],[5.8,-1.14],[6.1,-1.16],[6.4,-1.12],[6.7,-1.17],[7.0,-1.14],[7.25,-1.16],
[5.15,-1.45],[5.45,-1.43],[5.75,-1.47],[6.05,-1.44],[6.35,-1.46],[6.65,-1.42],[6.95,-1.47],
[5.45,-1.75],[5.75,-1.73],[6.05,-1.77],[6.35,-1.74],[6.65,-1.76],
[1.3,-6.9],[1.6,-6.95],[1.9,-6.85],[2.2,-6.93],[2.5,-6.87],[2.8,-6.95],[3.1,-6.88],
[0.8,-7.2],[1.1,-7.25],[1.4,-7.15],[1.7,-7.23],[2.0,-7.16],[2.3,-7.25],[2.6,-7.14],[2.9,-7.22],[3.2,-7.17],
[0.6,-7.5],[0.9,-7.45],[1.2,-7.55],[1.5,-7.47],[1.8,-7.54],[2.1,-7.45],[2.4,-7.53],[2.7,-7.47],[3.0,-7.55],[3.3,-7.46],
[0.7,-7.8],[1.0,-7.86],[1.3,-7.75],[1.6,-7.83],[1.9,-7.77],[2.2,-7.85],[2.5,-7.74],[2.8,-7.82],[3.1,-7.76],[3.4,-7.84],
[0.6,-8.1],[0.9,-8.05],[1.2,-8.15],[1.5,-8.07],[1.8,-8.14],[2.1,-8.05],[2.4,-8.13],[2.7,-8.07],[3.0,-8.15],[3.3,-8.06],[3.6,-8.12],
[0.7,-8.4],[1.0,-8.46],[1.3,-8.35],[1.6,-8.43],[1.9,-8.37],[2.2,-8.45],[2.5,-8.34],[2.8,-8.42],[3.1,-8.36],[3.4,-8.44],[3.7,-8.38],
[0.5,-8.7],[0.8,-8.65],[1.1,-8.75],[1.4,-8.67],[1.7,-8.74],[2.0,-8.65],[2.3,-8.73],[2.6,-8.67],[2.9,-8.75],[3.2,-8.66],[3.5,-8.72],[3.8,-8.68],
[0.6,-9.0],[0.9,-9.06],[1.2,-8.95],[1.5,-9.03],[1.8,-8.97],[2.1,-9.05],[2.4,-8.94],[2.7,-9.02],[3.0,-8.96],[3.3,-9.04],[3.6,-8.98],
[0.6,-9.3],[0.9,-9.25],[1.2,-9.35],[1.5,-9.27],[1.8,-9.34],[2.1,-9.25],[2.4,-9.33],[2.7,-9.27],[3.0,-9.35],[3.3,-9.26],[3.6,-9.32],
[0.7,-9.6],[1.0,-9.66],[1.3,-9.55],[1.6,-9.63],[1.9,-9.57],[2.2,-9.65],[2.5,-9.54],[2.8,-9.62],[3.1,-9.56],[3.4,-9.64],[3.7,-9.58],
[0.8,-9.9],[1.1,-9.85],[1.4,-9.95],[1.7,-9.87],[2.0,-9.94],[2.3,-9.85],[2.6,-9.93],[2.9,-9.87],[3.2,-9.95],[3.5,-9.86],
[0.9,-10.2],[1.2,-10.26],[1.5,-10.15],[1.8,-10.23],[2.1,-10.17],[2.4,-10.25],[2.7,-10.14],[3.0,-10.22],[3.3,-10.16],[3.6,-10.24],
[1.1,-10.5],[1.4,-10.45],[1.7,-10.55],[2.0,-10.47],[2.3,-10.54],[2.6,-10.45],[2.9,-10.53],[3.2,-10.47],[3.5,-10.55],
[1.4,-10.8],[1.7,-10.86],[2.0,-10.75],[2.3,-10.83],[2.6,-10.77],[2.9,-10.85],[3.2,-10.76],
[1.7,-11.1],[2.0,-11.05],[2.3,-11.15],[2.6,-11.07],[2.9,-11.14],
[2.1,-11.4],[2.5,-11.45],[2.8,-11.36],
[1.15,-7.05],[1.45,-7.03],[1.75,-7.07],[2.05,-7.04],[2.35,-7.06],[2.65,-7.02],[2.95,-7.07],
[0.75,-7.35],[1.05,-7.33],[1.35,-7.37],[1.65,-7.34],[1.95,-7.36],[2.25,-7.32],[2.55,-7.37],[2.85,-7.34],[3.15,-7.36],
[0.75,-7.65],[1.05,-7.63],[1.35,-7.67],[1.65,-7.64],[1.95,-7.66],[2.25,-7.62],[2.55,-7.67],[2.85,-7.64],[3.15,-7.66],[3.45,-7.63],
[0.75,-7.95],[1.05,-7.93],[1.35,-7.97],[1.65,-7.94],[1.95,-7.96],[2.25,-7.92],[2.55,-7.97],[2.85,-7.94],[3.15,-7.96],[3.45,-7.93],
[0.75,-8.25],[1.05,-8.23],[1.35,-8.27],[1.65,-8.24],[1.95,-8.26],[2.25,-8.22],[2.55,-8.27],[2.85,-8.24],[3.15,-8.26],[3.45,-8.23],[3.7,-8.25],
[0.65,-8.55],[0.95,-8.53],[1.25,-8.57],[1.55,-8.54],[1.85,-8.56],[2.15,-8.52],[2.45,-8.57],[2.75,-8.54],[3.05,-8.56],[3.35,-8.53],[3.65,-8.55],
[0.65,-8.85],[0.95,-8.83],[1.25,-8.87],[1.55,-8.84],[1.85,-8.86],[2.15,-8.82],[2.45,-8.87],[2.75,-8.84],[3.05,-8.86],[3.35,-8.83],[3.65,-8.85],
[0.65,-9.15],[0.95,-9.13],[1.25,-9.17],[1.55,-9.14],[1.85,-9.16],[2.15,-9.12],[2.45,-9.17],[2.75,-9.14],[3.05,-9.16],[3.35,-9.13],[3.65,-9.15],
[0.75,-9.45],[1.05,-9.43],[1.35,-9.47],[1.65,-9.44],[1.95,-9.46],[2.25,-9.42],[2.55,-9.47],[2.85,-9.44],[3.15,-9.46],[3.45,-9.43],
[0.85,-9.75],[1.15,-9.73],[1.45,-9.77],[1.75,-9.74],[2.05,-9.76],[2.35,-9.72],[2.65,-9.77],[2.95,-9.74],[3.25,-9.76],[3.55,-9.73],
[0.95,-10.05],[1.25,-10.03],[1.55,-10.07],[1.85,-10.04],[2.15,-10.06],[2.45,-10.02],[2.75,-10.07],[3.05,-10.04],[3.35,-10.06],
[1.05,-10.35],[1.35,-10.33],[1.65,-10.37],[1.95,-10.34],[2.25,-10.36],[2.55,-10.32],[2.85,-10.37],[3.15,-10.34],[3.45,-10.36],
[1.25,-10.65],[1.55,-10.63],[1.85,-10.67],[2.15,-10.64],[2.45,-10.66],[2.75,-10.62],[3.05,-10.67],[3.35,-10.64],
[1.55,-10.95],[1.85,-10.93],[2.15,-10.97],[2.45,-10.94],[2.75,-10.96],[3.05,-10.93]
];

const FONT = "'Liberation Sans', Arial, Helvetica, sans-serif";
const seriesFill = ['rgba(76,118,186,0.6)', 'rgba(250,140,50,0.6)'];
const seriesStroke = 'rgba(150,150,150,0.65)';

const toXY = arr => arr.map(p => ({x: p[0], y: p[1]}));

const titleLegendPlugin = {
  id: 'titleLegend',
  afterDraw(chart) {
    const ctx = chart.ctx;
    const ca = chart.chartArea;
    ctx.save();
    ctx.fillStyle = '#000';
    ctx.textBaseline = 'middle';
    ctx.textAlign = 'center';
    ctx.font = 'bold 26.5px ' + FONT;
    ctx.fillText(chartTitle, (ca.left + ca.right) / 2, 27);
    ctx.textAlign = 'left';
    ctx.font = '26px ' + FONT;
    ctx.fillText(legendTitle, 1186, 416);
    const ys = [458, 500];
    seriesNames.forEach((name, i) => {
      ctx.beginPath();
      ctx.arc(1209, ys[i], 5, 0, Math.PI * 2);
      ctx.fillStyle = seriesFill[i];
      ctx.fill();
      ctx.lineWidth = 1;
      ctx.strokeStyle = seriesStroke;
      ctx.stroke();
      ctx.fillStyle = '#000';
      ctx.font = '21.6px ' + FONT;
      ctx.fillText(name, 1238, ys[i]);
    });
    ctx.restore();
  }
};

const axisCommon = {
  type: 'linear',
  grid: { display: true, drawOnChartArea: false, drawTicks: true, tickLength: 5, tickColor: '#000', tickWidth: 2 },
  border: { display: true, color: '#000', width: 2.2 },
};

new Chart(document.getElementById('c'), {
  type: 'scatter',
  data: {
    datasets: [
      { label: seriesNames[0], data: toXY(pbmc3k), order: 2,
        backgroundColor: seriesFill[0], borderColor: seriesStroke, borderWidth: 1, pointRadius: 5, pointHoverRadius: 5 },
      { label: seriesNames[1], data: toXY(pbmc4k), order: 1,
        backgroundColor: seriesFill[1], borderColor: seriesStroke, borderWidth: 1, pointRadius: 5, pointHoverRadius: 5 }
    ]
  },
  options: {
    responsive: false,
    animation: false,
    devicePixelRatio: 1,
    events: [],
    layout: { padding: { top: 51, right: 198, bottom: 0, left: 0 } },
    plugins: { legend: { display: false }, title: { display: false }, tooltip: { enabled: false } },
    scales: {
      x: Object.assign({}, axisCommon, {
        min: -20.17, max: 9.27,
        afterBuildTicks: s => { s.ticks = xTicks.map(v => ({ value: v })); },
        afterFit: s => { s.height = 92; },
        ticks: { autoSkip: false, maxRotation: 0, padding: 6, color: '#000', font: { size: 22, family: FONT }, callback: v => String(v) },
        title: { display: true, text: xTitle, color: '#000', font: { size: 26, family: FONT }, padding: { top: 0, bottom: 14.4 } }
      }),
      y: Object.assign({}, axisCommon, {
        min: -13.25, max: 14.47,
        afterBuildTicks: s => { s.ticks = yTicks.map(v => ({ value: v })); },
        afterFit: s => { s.width = 101; },
        ticks: { autoSkip: false, padding: 8, color: '#000', font: { size: 22, family: FONT }, callback: v => String(v) },
        title: { display: true, text: yTitle, color: '#000', font: { size: 26, family: FONT }, padding: { top: 17.4, bottom: 0 } }
      })
    }
  },
  plugins: [titleLegendPlugin]
});
</script>
</body></html>
